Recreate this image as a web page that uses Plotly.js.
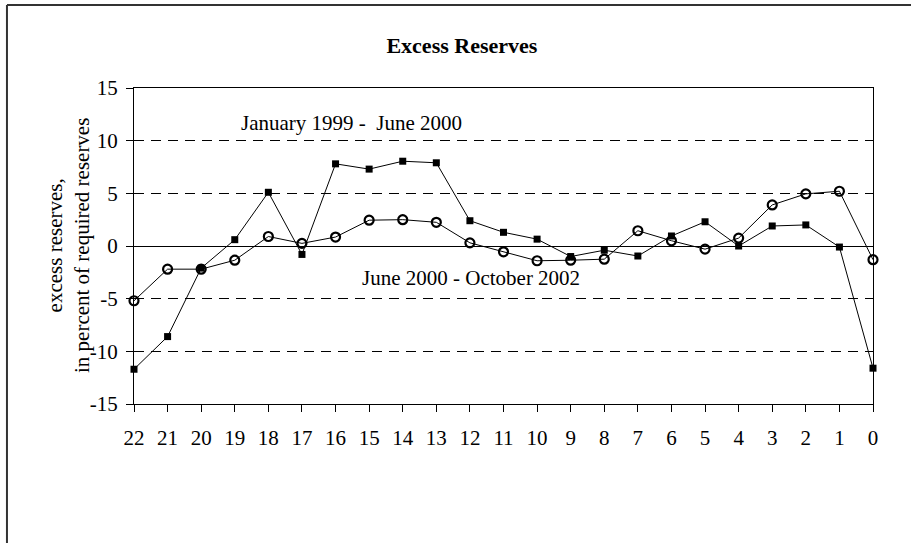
<!DOCTYPE html>
<html>
<head>
<meta charset="utf-8">
<script src="https://cdn.plot.ly/plotly-3.0.1.min.js"></script>
<style>
  html, body { margin: 0; padding: 0; background: #fff; }
  #chart { width: 911px; height: 543px; }
</style>
</head>
<body>
<div id="chart"></div>
<script>
// Months before the end of the period
const periods = [22, 21, 20, 19, 18, 17, 16, 15, 14, 13, 12, 11, 10, 9, 8, 7, 6, 5, 4, 3, 2, 1, 0];
const tickLabels = ['22','21','20','19','18','17','16','15','14','13','12','11','10','9','8','7','6','5','4','3','2','1','0'];
// January 1999 - June 2000 (filled squares)
const jan1999toJun2000 = [-11.7, -8.6, -2.1, 0.6, 5.1, -0.8, 7.8, 7.3, 8.05, 7.9, 2.4, 1.3, 0.65, -1.0, -0.4, -0.95, 0.95, 2.3, 0.0, 1.9, 2.0, -0.1, -11.6];
// June 2000 - October 2002 (open circles)
const jun2000toOct2002 = [-5.2, -2.2, -2.2, -1.35, 0.9, 0.25, 0.85, 2.45, 2.5, 2.25, 0.3, -0.55, -1.4, -1.35, -1.25, 1.45, 0.5, -0.3, 0.75, 3.9, 4.95, 5.2, -1.3];
const yTicks = [-15, -10, -5, 0, 5, 10, 15];
const yTickLabels = ['-15', '-10', '-5', '0', '5', '10', '15'];

const serif = '"Liberation Serif", "Times New Roman", Times, serif';

const traces = [
  {
    x: periods, y: jun2000toOct2002, type: 'scatter', mode: 'lines+markers',
    name: 'June 2000 - October 2002',
    line: {color: '#000', width: 1},
    marker: {symbol: 'circle-open', size: 9, color: '#000', line: {color: '#000', width: 2.2}},
    cliponaxis: false
  },
  {
    x: periods, y: jan1999toJun2000, type: 'scatter', mode: 'lines+markers',
    name: 'January 1999 - June 2000',
    line: {color: '#000', width: 1},
    marker: {symbol: 'square', size: 7, color: '#000'},
    cliponaxis: false
  }
];

const layout = {
  width: 911, height: 543,
  margin: {l: 134, r: 38, t: 88, b: 139},
  paper_bgcolor: '#fff', plot_bgcolor: '#fff',
  showlegend: false,
  font: {family: serif, size: 21, color: '#000'},
  title: {
    text: 'Excess Reserves',
    font: {family: serif, size: 22, weight: 'bold', color: '#000'},
    x: 0.507, xref: 'container', xanchor: 'center',
    y: 0.917, yref: 'container', yanchor: 'middle'
  },
  xaxis: {
    range: [22, 0],
    tickmode: 'array', tickvals: periods, ticktext: tickLabels,
    ticks: 'outside', ticklen: 7, tickcolor: '#000', tickwidth: 1,
    showline: true, linecolor: '#000', linewidth: 1, mirror: true,
    showgrid: false, zeroline: false,
    tickfont: {family: serif, size: 21, color: '#000'},
    ticklabelstandoff: 8
  },
  yaxis: {
    range: [-15, 15],
    tickmode: 'array', tickvals: yTicks, ticktext: yTickLabels,
    ticks: 'outside', ticklen: 7, tickcolor: '#000', tickwidth: 1,
    showline: true, linecolor: '#000', linewidth: 1, mirror: true,
    showgrid: true, gridcolor: '#000', gridwidth: 1, griddash: '10px,7px',
    zeroline: true, zerolinecolor: '#000', zerolinewidth: 1,
    tickfont: {family: serif, size: 21, color: '#000'},
    ticklabelstandoff: 4
  },
  annotations: [
    {x: -0.0893, y: 0.5, xref: 'paper', yref: 'paper', textangle: -90,
     text: 'excess reserves,<br>in percent of required reserves', showarrow: false,
     font: {family: serif, size: 21, color: '#000'}, xanchor: 'center', yanchor: 'middle'},
    {x: 15.54, y: 11.7, xref: 'x', yref: 'y', text: 'January 1999 -  June 2000', showarrow: false,
     font: {family: serif, size: 21, color: '#000'}, xanchor: 'center', yanchor: 'middle'},
    {x: 11.97, y: -3.05, xref: 'x', yref: 'y', text: 'June 2000 - October 2002', showarrow: false,
     font: {family: serif, size: 21, color: '#000'}, xanchor: 'center', yanchor: 'middle'}
  ],
  shapes: [
    {type: 'line', xref: 'paper', yref: 'paper', x0: -0.1719, x1: -0.1719, y0: -0.6, y1: 1.2627,
     line: {color: '#333', width: 2}},
    {type: 'line', xref: 'paper', yref: 'paper', x0: -0.1719, x1: 1.2, y0: 1.2627, y1: 1.2627,
     line: {color: '#333', width: 2}}
  ]
};

Plotly.newPlot('chart', traces, layout, {displayModeBar: false, staticPlot: true});
</script>
</body>
</html>
